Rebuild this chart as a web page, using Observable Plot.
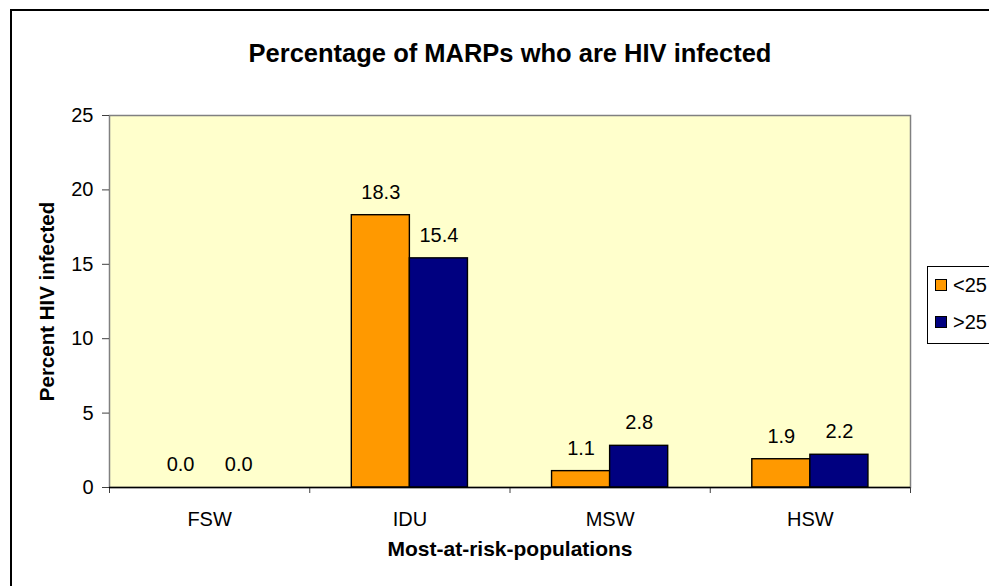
<!DOCTYPE html>
<html>
<head>
<meta charset="utf-8">
<script src="https://cdn.jsdelivr.net/npm/d3@7"></script>
<script src="https://cdn.jsdelivr.net/npm/@observablehq/plot@0.6"></script>
<style>
  html, body { margin: 0; padding: 0; background: #fff; overflow: hidden; }
  body { width: 989px; height: 586px; position: relative; font-family: "Liberation Sans", Arial, sans-serif; }
  #border { position: absolute; left: 10px; top: 9px; width: 1100px; height: 700px; border: 2px solid #000; box-sizing: border-box; }
  #chart { position: absolute; left: 0; top: 0; }
  #legend { position: absolute; left: 927px; top: 266px; width: 120px; height: 78px; border: 1px solid #000; background: #fff; box-sizing: border-box; }
  .item { position: absolute; left: 7px; height: 22px; font-size: 20px; line-height: 22px; }
  .sw { position: absolute; left: 0; top: 5px; width: 10px; height: 10px; border: 1px solid #000; }
  .lbl { position: absolute; left: 18px; top: 0; white-space: nowrap; }
</style>
</head>
<body>
<div id="border"></div>
<div id="chart"></div>
<div id="legend"></div>
<script>
// ---- data ----
const categories = ["FSW", "IDU", "MSW", "HSW"];
const seriesNames = ["<25", ">25"];
const under25 = [0.0, 18.3, 1.1, 1.9];
const over25 = [0.0, 15.4, 2.8, 2.2];
const yTicks = [0, 5, 10, 15, 20, 25];
const colors = ["#FF9900", "#000080"];
const title = "Percentage of MARPs who are HIV infected";
const yTitle = "Percent HIV infected";
const xTitle = "Most-at-risk-populations";

// ---- build table ----
const barW = 0.29; // bar width in category units
const seriesValues = [under25, over25];
const rows = [];
categories.forEach((c, i) => {
  seriesValues.forEach((vals, s) => {
    rows.push({
      cat: c, i, series: seriesNames[s], value: vals[i],
      x1: s === 0 ? i - barW : i,
      x2: s === 0 ? i : i + barW
    });
  });
});
const boundaries = d3.range(categories.length + 1).map(k => k - 0.5);

const chart = Plot.plot({
  width: 989,
  height: 586,
  marginTop: 115,
  marginBottom: 99,
  marginLeft: 109,
  marginRight: 79,
  style: { fontFamily: "'Liberation Sans', Arial, sans-serif", fontSize: "20px", color: "#000", background: "transparent" },
  x: { domain: [-0.5, categories.length - 0.5], axis: null },
  y: { domain: [0, 25], axis: null },
  color: { domain: seriesNames, range: colors },
  marks: [
    Plot.frame({ fill: "#FFFFCC", stroke: "#808080", strokeWidth: 1.5 }),
    Plot.rectY(rows, { x1: "x1", x2: "x2", y1: 0, y2: "value", fill: "series", stroke: "#000", strokeWidth: 1.4 }),
    Plot.text(rows, { x: d => (d.x1 + d.x2) / 2, y: "value", text: d => d.value.toFixed(1), dy: -23, fontSize: 20, fill: "#000" }),
    Plot.axisY(yTicks, { anchor: "left", tickSize: 7, tickPadding: 9, fontSize: 20, stroke: "#404040", label: null }),
    Plot.axisX(boundaries, { anchor: "bottom", tickSize: 6, tickFormat: () => "", stroke: "#404040", label: null }),
    Plot.axisX(d3.range(categories.length), { anchor: "bottom", tickSize: 0, tickPadding: 24, tickFormat: k => categories[k], fontSize: 20, label: null }),
    Plot.ruleY([0], { stroke: "#000", strokeWidth: 1.5 }),
    Plot.text([title], { frameAnchor: "top", textAnchor: "middle", dy: -71.5, fontSize: 25.5, fontWeight: "bold", fill: "#000" }),
    Plot.text([xTitle], { frameAnchor: "bottom", textAnchor: "middle", dy: 68, fontSize: 21, fontWeight: "bold", fill: "#000" }),
    Plot.text([yTitle], { frameAnchor: "left", textAnchor: "middle", dx: -62, rotate: -90, fontSize: 20.5, fontWeight: "bold", fill: "#000" })
  ]
});
document.getElementById("chart").appendChild(chart);

// ---- legend ----
const legend = document.getElementById("legend");
seriesNames.forEach((name, s) => {
  const item = document.createElement("div");
  item.className = "item";
  item.style.top = (7 + s * 37) + "px";
  const sw = document.createElement("div");
  sw.className = "sw";
  sw.style.background = colors[s];
  const lbl = document.createElement("div");
  lbl.className = "lbl";
  lbl.textContent = name;
  item.appendChild(sw);
  item.appendChild(lbl);
  legend.appendChild(item);
});
</script>
</body>
</html>
